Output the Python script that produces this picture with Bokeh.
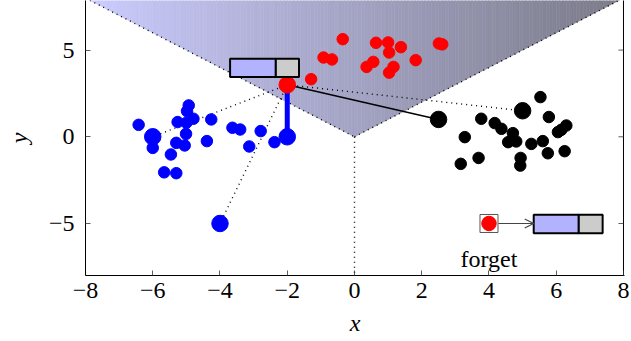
from bokeh.plotting import figure
from bokeh.models import Range1d, FixedTicker, Arrow, OpenHead
from bokeh.core.properties import value
from bokeh.embed import file_html
from bokeh.resources import INLINE

# ---------------- data ----------------
blue_x = [-6.42, -6.0, -4.93, -4.98, -4.79, -5.26, -5.0, -4.26, -5.01, -5.3, -5.05,
          -4.39, -5.46, -5.66, -5.3, -3.63, -3.4, -2.79, -3.13, -2.38]
blue_y = [0.69, -0.64, 1.81, 1.48, 1.04, 0.85, 0.81, 1.0, 0.17, -0.35, -0.5,
          -0.25, -1.02, -2.05, -2.1, 0.52, 0.42, 0.33, -0.56, -0.31]
blue_big_x = [-6.0, -4.0, -2.0]
blue_big_y = [0.0, -5.0, 0.0]

red_x = [-0.35, -0.92, -0.67, -1.29, 0.64, 1.0, 1.38, 1.03, 0.56, 0.36, 1.16, 1.03, 1.82, 2.51, 2.61]
red_y = [5.63, 4.57, 4.46, 3.32, 5.42, 5.44, 5.17, 4.86, 4.32, 4.03, 4.03, 3.7, 4.42, 5.38, 5.33]
red_big_x = [-2.0]
red_big_y = [3.0]

black_x = [5.53, 3.77, 5.78, 4.17, 4.37, 4.71, 6.30, 6.15, 6.05, 3.28, 4.57, 4.81,
           5.26, 5.6, 5.75, 6.25, 3.69, 3.16, 4.94, 4.93]
black_y = [2.29, 1.04, 1.14, 0.79, 0.46, 0.21, 0.65, 0.40, 0.27, -0.02, -0.31, -0.27,
           -0.41, -0.25, -0.95, -0.83, -1.22, -1.56, -1.22, -1.66]
black_big_x = [2.5, 5.0]
black_big_y = [1.0, 1.5]

# dotted links from the query point (red) to the nearest of each class
dotted_to_x = [-6.0, -4.0, 5.0]
dotted_to_y = [0.0, -5.0, 1.5]
solid_to_x = [2.5]
solid_to_y = [1.0]

# memory box annotations: [left, split, right], [bottom, top]
box1_x = [-3.7, -2.34, -1.65]
box1_y = [3.45, 4.5]
box2_x = [5.33, 6.67, 7.38]
box2_y = [-5.56, -4.5]
forget_pt = [4.0, -5.0]
forget_label = "forget"
forget_label_pos = [4.0, -7.05]

x_ticks = [-8, -6, -4, -2, 0, 2, 4, 6, 8]
x_tick_labels = ["\u22128", "\u22126", "\u22124", "\u22122", "0", "2", "4", "6", "8"]
y_ticks = [-5, 0, 5]
y_tick_labels = ["\u22125", "0", "5"]

FONT = "Liberation Serif"
FS = "24px"
DOT = "1 4"
X_MIN, X_MAX = -8, 8

p = figure(width=631, height=341, output_backend="svg", toolbar_location=None,
           x_range=Range1d(X_MIN, X_MAX + 0.03), y_range=Range1d(-8, 7.86),
           min_border_left=85, min_border_right=7, min_border_top=0, min_border_bottom=66)
p.outline_line_color = None
p.xgrid.visible = False
p.ygrid.visible = False
p.background_fill_color = "white"

# ---------- gradient region y >= |x| ----------
N = 160
xs, ys, cols = [], [], []
c0 = (204, 204, 255)
c1 = (122, 122, 136)
for i in range(N):
    a = X_MIN + (X_MAX - X_MIN) * i / N
    b = X_MIN + (X_MAX - X_MIN) * (i + 1) / N
    if a < 0 < b:
        px = [a, 0, b, b, a]
        py = [abs(a), 0, abs(b), 8, 8]
    else:
        px = [a, b, b, a]
        py = [abs(a), abs(b), 8, 8]
    t = (i + 0.5) / N
    c = tuple(int(round(c0[k] + (c1[k] - c0[k]) * t)) for k in range(3))
    xs.append(px)
    ys.append(py)
    cols.append("#%02x%02x%02x" % c)
p.patches(xs, ys, fill_color=cols, line_color=cols, line_width=0.6)

# decision boundaries (dotted)
p.line([X_MIN, 0], [8, 0], line_color="black", line_dash=DOT, line_width=1.4)
p.line([0, X_MAX], [0, 8], line_color="black", line_dash=DOT, line_width=1.4)
p.line([0, 0], [0, -8], line_color="black", line_dash=DOT, line_width=1.4)

# links
for tx, ty in zip(dotted_to_x, dotted_to_y):
    p.line([red_big_x[0], tx], [red_big_y[0], ty], line_color="black",
           line_dash=DOT, line_width=1.4)
for tx, ty in zip(solid_to_x, solid_to_y):
    p.line([red_big_x[0], tx], [red_big_y[0], ty], line_color="black", line_width=1.5)
p.line([red_big_x[0], blue_big_x[2]], [red_big_y[0], blue_big_y[2]],
       line_color="blue", line_width=5)

# points
p.scatter(blue_x, blue_y, size=11.5, color="blue")
p.scatter(red_x, red_y, size=11.5, color="red")
p.scatter(black_x, black_y, size=11.5, color="black")
p.scatter(blue_big_x, blue_big_y, size=16.5, color="blue")
p.scatter(black_big_x, black_big_y, size=16.5, color="black")
p.scatter(red_big_x, red_big_y, size=16.5, color="red")

# memory boxes
for bx, by in ((box1_x, box1_y), (box2_x, box2_y)):
    p.quad(left=[bx[0]], right=[bx[1]], bottom=[by[0]], top=[by[1]],
           fill_color="#b2b2ff", line_color="black", line_width=2)
    p.quad(left=[bx[1]], right=[bx[2]], bottom=[by[0]], top=[by[1]],
           fill_color="#cccccc", line_color="black", line_width=2)

# forget annotation
p.scatter([forget_pt[0]], [forget_pt[1]], marker="square", size=18,
          fill_color="white", line_color="#555555", line_width=1)
p.scatter([forget_pt[0]], [forget_pt[1]], size=14.5, color="red")
p.add_layout(Arrow(end=OpenHead(size=9, line_color="#444444", line_width=1.2),
                   x_start=forget_pt[0] + 0.28, y_start=forget_pt[1],
                   x_end=box2_x[0], y_end=forget_pt[1],
                   line_color="#444444", line_width=1.2))
p.text([forget_label_pos[0]], [forget_label_pos[1]], text=[forget_label],
       text_font=value(FONT), text_font_size=value(FS), text_align="center",
       text_baseline="alphabetic", text_color="black")

# right frame edge with inward ticks
p.line([X_MAX, X_MAX], [-8, 8], line_color="black", line_width=1)
p.segment(x0=[X_MAX] * len(y_ticks), y0=y_ticks,
          x1=[X_MAX - 0.15] * len(y_ticks), y1=y_ticks,
          line_color="#333333", line_width=0.8)

# axes
def style_axis(ax, ticks, labels):
    ax.ticker = FixedTicker(ticks=ticks)
    ax.major_label_overrides = {t: l for t, l in zip(ticks, labels)}
    ax.major_tick_in = 5
    ax.major_tick_out = 0
    ax.minor_tick_in = 0
    ax.minor_tick_out = 0
    ax.axis_line_color = "black"
    ax.axis_line_width = 1
    ax.major_tick_line_color = "#333333"
    ax.major_tick_line_width = 0.8
    ax.major_label_text_font = FONT
    ax.major_label_text_font_size = FS
    ax.major_label_text_color = "black"
    ax.axis_label_text_font = FONT
    ax.axis_label_text_font_size = FS
    ax.axis_label_text_font_style = "italic"
    ax.axis_label_text_color = "black"

style_axis(p.xaxis[0], x_ticks, x_tick_labels)
p.xaxis[0].axis_label = "x"
p.xaxis[0].major_label_standoff = 7
p.xaxis[0].axis_label_standoff = 9

style_axis(p.yaxis[0], y_ticks, y_tick_labels)
p.yaxis[0].axis_label = "y"
p.yaxis[0].major_label_standoff = 11
p.yaxis[0].axis_label_standoff = 14

open("out.html", "w").write(file_html(p, INLINE))
